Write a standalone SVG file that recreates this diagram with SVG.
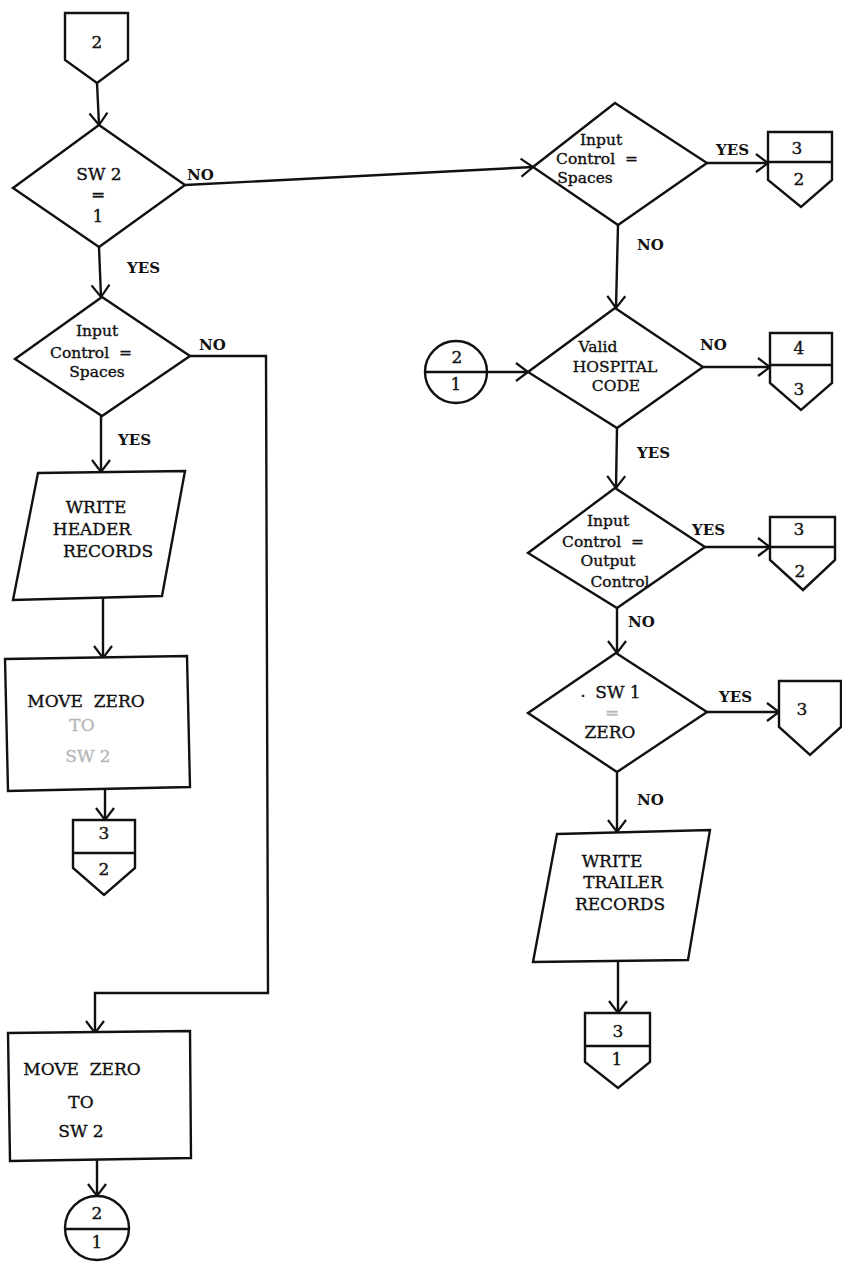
<svg xmlns="http://www.w3.org/2000/svg" width="842" height="1265" viewBox="0 0 842 1265">
<style>
.s{fill:none;stroke:#111;stroke-width:2.4;stroke-linejoin:miter}
.w{fill:#fff;stroke:#111;stroke-width:2.4}
.t{font-family:"DejaVu Serif","Liberation Serif",serif;font-size:17px;fill:#111;stroke:#111;stroke-width:0.35;text-anchor:middle}
.d{font-size:15.5px}
.l{font-family:"DejaVu Serif","Liberation Serif",serif;font-size:15px;fill:#111;font-weight:bold}
.f{fill:#b8b8b8;stroke:#b8b8b8}
</style>
<defs>
<marker id="arr" markerUnits="userSpaceOnUse" viewBox="-14 -12 16 24" refX="0" refY="0" markerWidth="16" markerHeight="24" orient="auto">
<path d="M-12,-9 L0,0 L-12,9" fill="none" stroke="#111" stroke-width="2.2"/>
</marker>
</defs>
<rect width="842" height="1265" fill="#fff"/>

<g id="connectors" class="s" marker-end="url(#arr)">
<path d="M97,83 L99,125"/>
<path d="M99,247 L101,297"/>
<path d="M185,185 L533,167"/>
<path d="M190,356 L266,356 L268,993 L95,993 L95,1033"/>
<path d="M101,416 L101,472"/>
<path d="M103,598 L103,658"/>
<path d="M105,790 L105,820"/>
<path d="M97,1160 L97,1196"/>
<path d="M707,163 L768,163"/>
<path d="M618,225 L616,308"/>
<path d="M487,372 L528,372"/>
<path d="M703,367 L770,367"/>
<path d="M617,428 L616,488"/>
<path d="M705,547 L770,547"/>
<path d="M617,608 L617,653"/>
<path d="M707,712 L779,712"/>
<path d="M617,772 L617,832"/>
<path d="M618,960 L618,1013"/>
</g>

<g id="labels" class="l">
<text x="187" y="180">NO</text>
<text x="127" y="273">YES</text>
<text x="199" y="350">NO</text>
<text x="118" y="445">YES</text>
<text x="716" y="155">YES</text>
<text x="637" y="250">NO</text>
<text x="700" y="350">NO</text>
<text x="637" y="458">YES</text>
<text x="692" y="535">YES</text>
<text x="628" y="627">NO</text>
<text x="719" y="702">YES</text>
<text x="637" y="805">NO</text>
</g>

<g id="conn_top_2">
<polygon class="w" points="65,13 128,13 128,60 97,83 65,60"/>
<text class="t" x="97" y="48">2</text>
</g>

<g id="dec_sw2">
<polygon class="w" points="99,125 185,185 99,247 13,188"/>
<text class="t" x="99" y="180">SW 2</text>
<text class="t" x="98" y="200">=</text>
<text class="t" x="98" y="222">1</text>
</g>

<g id="dec_input_spaces_1">
<polygon class="w" points="102,297 190,356 102,416 15,359"/>
<text class="t d" x="97" y="336">Input</text>
<text class="t d" x="91" y="358">Control&#160; =</text>
<text class="t d" x="97" y="377">Spaces</text>
</g>

<g id="io_write_header">
<polygon class="w" points="38,473 185,471 162,596 13,600"/>
<text class="t" x="96" y="513">WRITE</text>
<text class="t" x="92" y="535">HEADER</text>
<text class="t" x="108" y="557">RECORDS</text>
</g>

<g id="proc_move_zero_1">
<polygon class="w" points="5,659 187,656 190,787 8,791"/>
<text class="t" x="86" y="707">MOVE&#160; ZERO</text>
<text class="t f" x="82" y="731">TO</text>
<text class="t f" x="88" y="762">SW 2</text>
</g>

<g id="conn_3_2_left">
<polygon class="w" points="73,820 135,820 135,868 104,895 73,868"/>
<line class="s" x1="73" y1="853" x2="135" y2="853"/>
<text class="t" x="104" y="839">3</text>
<text class="t" x="104" y="875">2</text>
</g>

<g id="proc_move_zero_2">
<polygon class="w" points="8,1033 190,1031 191,1158 10,1161"/>
<text class="t" x="82" y="1075">MOVE&#160; ZERO</text>
<text class="t" x="81" y="1108">TO</text>
<text class="t" x="81" y="1137">SW 2</text>
</g>

<g id="conn_2_1_bottom">
<circle class="w" cx="97" cy="1228" r="32"/>
<line class="s" x1="65" y1="1229" x2="129" y2="1229"/>
<text class="t" x="97" y="1219">2</text>
<text class="t" x="97" y="1248">1</text>
</g>

<g id="dec_input_spaces_2">
<polygon class="w" points="615,103 707,163 618,225 533,167"/>
<text class="t d" x="601" y="145">Input</text>
<text class="t d" x="597" y="164">Control&#160; =</text>
<text class="t d" x="585" y="183">Spaces</text>
</g>

<g id="conn_3_2_r1">
<polygon class="w" points="768,132 832,132 832,180 801,207 768,180"/>
<line class="s" x1="768" y1="162" x2="832" y2="162"/>
<text class="t" x="797" y="154">3</text>
<text class="t" x="799" y="185">2</text>
</g>

<g id="conn_2_1_mid">
<circle class="w" cx="456" cy="372" r="31"/>
<line class="s" x1="425" y1="372" x2="487" y2="372"/>
<text class="t" x="457" y="363">2</text>
<text class="t" x="456" y="390">1</text>
</g>

<g id="dec_valid_hospital">
<polygon class="w" points="615,308 703,367 617,428 528,372"/>
<text class="t d" x="598" y="352">Valid</text>
<text class="t d" x="615" y="372">HOSPITAL</text>
<text class="t d" x="616" y="391">CODE</text>
</g>

<g id="conn_4_3">
<polygon class="w" points="770,333 832,333 832,383 801,410 770,383"/>
<line class="s" x1="770" y1="365" x2="832" y2="365"/>
<text class="t" x="799" y="354">4</text>
<text class="t" x="799" y="395">3</text>
</g>

<g id="dec_input_output">
<polygon class="w" points="615,488 705,547 617,608 528,553"/>
<text class="t d" x="608" y="526">Input</text>
<text class="t d" x="603" y="547">Control&#160; =</text>
<text class="t d" x="608" y="566">Output</text>
<text class="t d" x="620" y="587">Control</text>
</g>

<g id="conn_3_2_r2">
<polygon class="w" points="770,517 835,517 835,560 803,590 770,560"/>
<line class="s" x1="770" y1="547" x2="835" y2="547"/>
<text class="t" x="799" y="535">3</text>
<text class="t" x="800" y="577">2</text>
</g>

<g id="dec_sw1">
<polygon class="w" points="616,653 707,712 617,772 528,713"/>
<text class="t" x="583" y="697">.</text>
<text class="t" x="618" y="698">SW 1</text>
<text class="t f" x="612" y="718">=</text>
<text class="t" x="610" y="738">ZERO</text>
</g>

<g id="conn_3">
<polygon class="w" points="779,681 841,681 841,727 810,755 779,727"/>
<text class="t" x="802" y="715">3</text>
</g>

<g id="io_write_trailer">
<polygon class="w" points="557,834 710,830 688,960 533,962"/>
<text class="t" x="612" y="867">WRITE</text>
<text class="t" x="623" y="888">TRAILER</text>
<text class="t" x="620" y="910">RECORDS</text>
</g>

<g id="conn_3_1">
<polygon class="w" points="585,1013 650,1013 650,1062 618,1088 585,1062"/>
<line class="s" x1="585" y1="1046" x2="650" y2="1046"/>
<text class="t" x="618" y="1037">3</text>
<text class="t" x="617" y="1065">1</text>
</g>
</svg>
